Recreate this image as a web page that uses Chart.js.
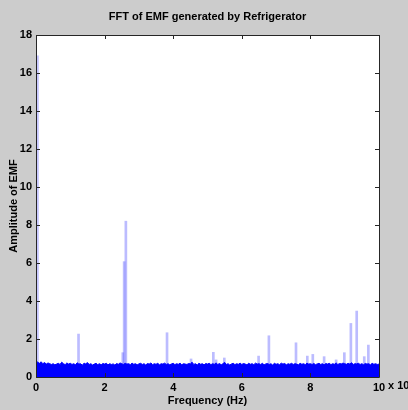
<!DOCTYPE html>
<html>
<head>
<meta charset="utf-8">
<script src="https://cdn.jsdelivr.net/npm/chart.js@4/dist/chart.umd.min.js"></script>
<style>
  html, body { margin: 0; padding: 0; background: #cccccc; }
  #wrap { width: 408px; height: 410px; position: relative; }
</style>
</head>
<body>
<div id="wrap"><canvas id="c" width="408" height="410"></canvas></div>
<script>
// DC component at zero frequency
const dcFreq = [0];
const dcAmp = [16.9];

// Spectral lines standing above the noise floor (frequency in units of 10^5 Hz)
const spikeFreq = [1.24, 2.53, 2.57, 2.62, 3.82, 4.52, 5.17, 5.25, 5.49, 6.49, 6.79, 7.58, 7.91, 8.07, 8.40, 8.75, 8.99, 9.18, 9.35, 9.57, 9.69];
const spikeAmp  = [2.26, 1.28, 6.07, 8.2, 2.33, 0.95, 1.3, 0.9, 1.0, 1.1, 2.17, 1.8, 1.1, 1.19, 1.07, 0.9, 1.28, 2.82, 3.47, 1.07, 1.68];

// Broadband noise floor, one value every 0.05 (x 10^5 Hz) from 0 to 10
const noiseStep = 0.05;
const noiseAmp = [
  0.85,0.78,0.72,0.80,0.70,0.76,0.68,0.74,0.70,0.66,
  0.70,0.64,0.68,0.72,0.66,0.78,0.70,0.65,0.74,0.68,
  0.72,0.66,0.70,0.64,0.75,0.68,0.70,0.62,0.73,0.69,
  0.76,0.66,0.70,0.63,0.68,0.72,0.65,0.70,0.64,0.71,
  0.68,0.72,0.64,0.70,0.66,0.69,0.63,0.71,0.67,0.74,
  0.70,0.66,0.72,0.68,0.70,0.65,0.73,0.67,0.70,0.64,
  0.69,0.72,0.66,0.70,0.63,0.71,0.68,0.74,0.65,0.70,
  0.67,0.72,0.64,0.70,0.68,0.73,0.66,0.70,0.64,0.69,
  0.72,0.65,0.70,0.67,0.73,0.64,0.70,0.68,0.66,0.71,
  0.69,0.78,0.66,0.70,0.63,0.72,0.67,0.70,0.64,0.71,
  0.68,0.72,0.65,0.70,0.67,0.74,0.66,0.71,0.64,0.70,
  0.77,0.66,0.70,0.63,0.69,0.72,0.65,0.70,0.67,0.73,
  0.66,0.71,0.68,0.64,0.72,0.67,0.70,0.65,0.73,0.68,
  0.70,0.66,0.72,0.64,0.69,0.71,0.66,0.70,0.63,0.72,
  0.67,0.70,0.65,0.73,0.68,0.71,0.64,0.70,0.67,0.72,
  0.66,0.70,0.68,0.64,0.72,0.67,0.70,0.65,0.73,0.68,
  0.70,0.66,0.71,0.65,0.69,0.72,0.66,0.70,0.64,0.71,
  0.68,0.72,0.65,0.70,0.67,0.74,0.66,0.71,0.69,0.73,
  0.70,0.67,0.72,0.68,0.75,0.66,0.70,0.69,0.72,0.66,
  0.70,0.65,0.71,0.68,0.70,0.64,0.72,0.67,0.70,0.66,
  0.68
];

const xTicks = [0, 2, 4, 6, 8, 10];
const yTicks = [0, 2, 4, 6, 8, 10, 12, 14, 16, 18];

const chartTitle = 'FFT of EMF generated by Refrigerator';
const xTitle = 'Frequency (Hz)';
const yTitle = 'Amplitude of EMF';

const FONT = '"Liberation Sans", Arial, sans-serif';

const toPoints = (xs, ys) => xs.map((f, i) => ({ x: f, y: ys[i] }));
const noiseData = noiseAmp.map((v, i) => ({ x: i * noiseStep, y: v }));

// White plotting area behind the data
const plotBackground = {
  id: 'plotBackground',
  beforeDraw(chart) {
    const { ctx, chartArea: a } = chart;
    ctx.save();
    ctx.fillStyle = '#ffffff';
    ctx.fillRect(a.left, a.top, a.right - a.left, a.bottom - a.top);
    ctx.restore();
  }
};

// Boxed axes with inward ticks on all four sides, plus titles
const frame = {
  id: 'frame',
  afterDraw(chart) {
    const { ctx, chartArea: a, scales: { x, y } } = chart;
    ctx.save();
    ctx.strokeStyle = '#262626';
    ctx.lineWidth = 1;
    ctx.beginPath();
    ctx.rect(Math.round(a.left) + 0.5, Math.round(a.top) + 0.5,
             Math.round(a.right - a.left), Math.round(a.bottom - a.top));
    ctx.stroke();
    const tl = 4;
    ctx.beginPath();
    xTicks.forEach(v => {
      const px = Math.round(x.getPixelForValue(v)) + 0.5;
      ctx.moveTo(px, a.bottom); ctx.lineTo(px, a.bottom - tl);
      ctx.moveTo(px, a.top); ctx.lineTo(px, a.top + tl);
    });
    yTicks.forEach(v => {
      const py = Math.round(y.getPixelForValue(v)) + 0.5;
      ctx.moveTo(a.left, py); ctx.lineTo(a.left + tl, py);
      ctx.moveTo(a.right, py); ctx.lineTo(a.right - tl, py);
    });
    ctx.stroke();

    ctx.fillStyle = '#000';
    const cx = (a.left + a.right) / 2;
    ctx.font = 'bold 11px ' + FONT;
    ctx.textAlign = 'center';
    ctx.textBaseline = 'middle';
    ctx.fillText(chartTitle, cx, 17);
    ctx.fillText(xTitle, cx, 401);
    ctx.save();
    ctx.translate(14, (a.top + a.bottom) / 2);
    ctx.rotate(-Math.PI / 2);
    ctx.fillText(yTitle, 0, 0);
    ctx.restore();

    // axis multiplier next to the last x tick label
    ctx.textAlign = 'left';
    ctx.fillText('x 10', x.getPixelForValue(10) + 9, 386);
    ctx.font = 'bold 8px ' + FONT;
    ctx.fillText('5', x.getPixelForValue(10) + 33, 381);
    ctx.restore();
  }
};

new Chart(document.getElementById('c'), {
  type: 'bar',
  data: {
    datasets: [
      {
        type: 'bar',
        data: toPoints(dcFreq, dcAmp),
        backgroundColor: 'rgba(80,80,255,0.32)',
        borderWidth: 0,
        barThickness: 5,
        grouped: false,
        order: 3
      },
      {
        type: 'bar',
        data: toPoints(spikeFreq, spikeAmp),
        backgroundColor: 'rgba(80,80,255,0.38)',
        borderWidth: 0,
        barThickness: 2,
        grouped: false,
        order: 2
      },
      {
        type: 'line',
        data: noiseData,
        borderColor: '#0000ff',
        backgroundColor: '#0000ff',
        borderWidth: 1,
        pointRadius: 0,
        tension: 0,
        fill: 'origin',
        order: 1
      }
    ]
  },
  options: {
    responsive: false,
    animation: false,
    devicePixelRatio: 1,
    layout: { padding: { top: 35, right: 29, left: 0, bottom: 0 } },
    plugins: { legend: { display: false }, tooltip: { enabled: false }, title: { display: false } },
    scales: {
      x: {
        type: 'linear',
        offset: false,
        min: 0, max: 10,
        grid: { display: false, drawTicks: false },
        border: { display: false },
        ticks: { stepSize: 2, padding: 4, color: '#000', font: { family: FONT, size: 11, weight: 'bold' }, maxRotation: 0 },
        afterFit(s) { s.height = 33; }
      },
      y: {
        type: 'linear',
        min: 0, max: 18,
        grid: { display: false, drawTicks: false },
        border: { display: false },
        ticks: { stepSize: 2, padding: 4, color: '#000', font: { family: FONT, size: 11, weight: 'bold' } },
        afterFit(s) { s.width = 36; }
      }
    }
  },
  plugins: [plotBackground, frame]
});
</script>
</body>
</html>
